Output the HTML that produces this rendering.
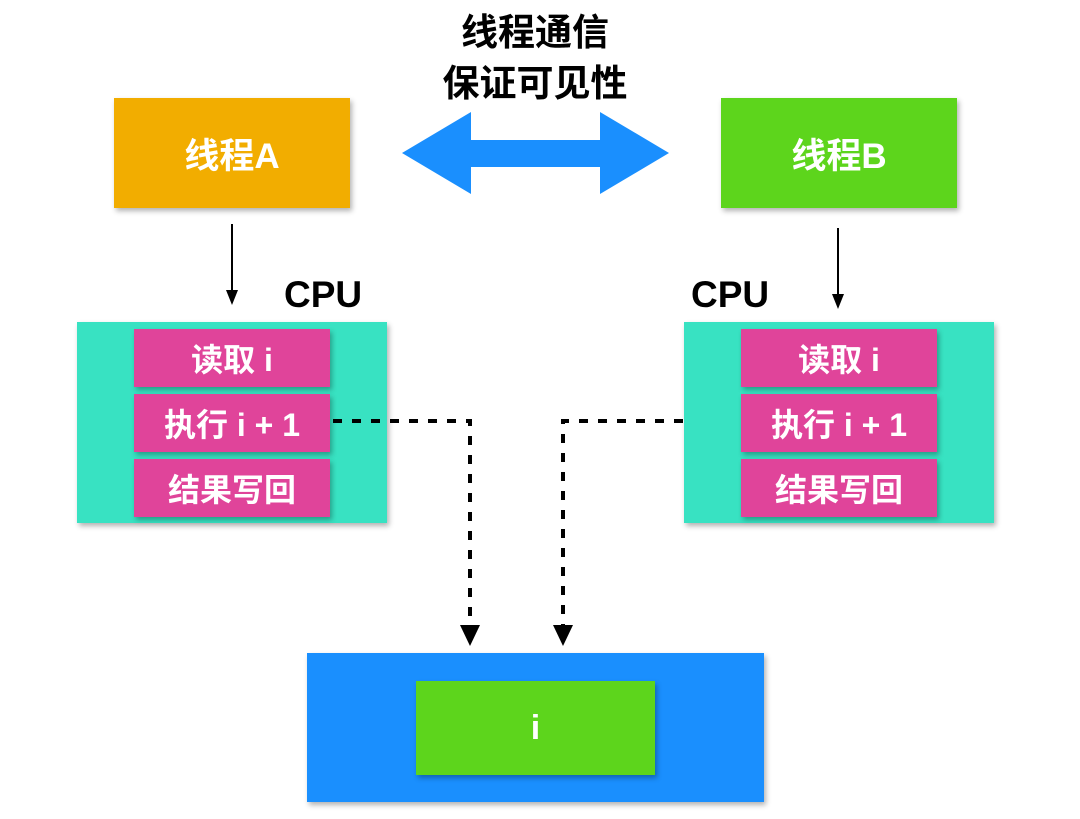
<!DOCTYPE html>
<html><head><meta charset="utf-8"><style>
body{margin:0;width:1080px;height:819px;background:#fff;position:relative;overflow:hidden;font-family:"Liberation Sans","Noto Sans CJK SC",sans-serif;}
.b{position:absolute;display:flex;align-items:center;justify-content:center;color:#fff;font-weight:bold;box-shadow:2px 3px 5px rgba(0,0,0,0.3);}
.t{position:absolute;font-weight:bold;color:#000;}
</style></head><body>
<div class="t" style="left:0;width:1070px;text-align:center;top:7px;font-size:37px;line-height:51px;">线程通信<br>保证可见性</div>
<div class="b" style="left:114px;top:98px;width:236px;height:110px;background:#f2ad00;font-size:35px;">线程A</div>
<div class="b" style="left:721px;top:98px;width:236px;height:110px;background:#5dd51c;font-size:35px;">线程B</div>
<div class="t" style="left:284px;top:274px;font-size:37px;">CPU</div>
<div class="t" style="left:691px;top:274px;font-size:37px;">CPU</div>
<div class="b" style="left:77px;top:322px;width:310px;height:201px;background:#38e2c2;"></div>
<div class="b" style="left:134px;top:329px;width:196px;height:58px;background:#e0449a;font-size:32px;">读取 i</div>
<div class="b" style="left:134px;top:394px;width:196px;height:58px;background:#e0449a;font-size:32px;">执行 i + 1</div>
<div class="b" style="left:134px;top:459px;width:196px;height:58px;background:#e0449a;font-size:32px;">结果写回</div>
<div class="b" style="left:684px;top:322px;width:310px;height:201px;background:#38e2c2;"></div>
<div class="b" style="left:741px;top:329px;width:196px;height:58px;background:#e0449a;font-size:32px;">读取 i</div>
<div class="b" style="left:741px;top:394px;width:196px;height:58px;background:#e0449a;font-size:32px;">执行 i + 1</div>
<div class="b" style="left:741px;top:459px;width:196px;height:58px;background:#e0449a;font-size:32px;">结果写回</div>
<div class="b" style="left:307px;top:653px;width:457px;height:149px;background:#1a8ffe;"></div>
<div class="b" style="left:416px;top:681px;width:239px;height:94px;background:#5dd51c;font-size:34px;">i</div>
<svg width="1080" height="819" style="position:absolute;left:0;top:0">
<polygon points="402,153 471,112 471,140 600,140 600,112 669,153 600,194 600,167 471,167 471,194" fill="#1a8ffe"/>
<line x1="232" y1="224" x2="232" y2="292" stroke="#000" stroke-width="2"/>
<polygon points="226,290 238,290 232,305" fill="#000"/>
<line x1="838" y1="228" x2="838" y2="296" stroke="#000" stroke-width="2"/>
<polygon points="832,294 844,294 838,309" fill="#000"/>
<polyline points="333,421 470,421 470,628" fill="none" stroke="#000" stroke-width="4" stroke-dasharray="9,10"/>
<polyline points="683,421 563,421 563,628" fill="none" stroke="#000" stroke-width="4" stroke-dasharray="9,10"/>
<polygon points="460,625 480,625 470,646" fill="#000"/>
<polygon points="553,625 573,625 563,646" fill="#000"/>
</svg>
</body></html>
